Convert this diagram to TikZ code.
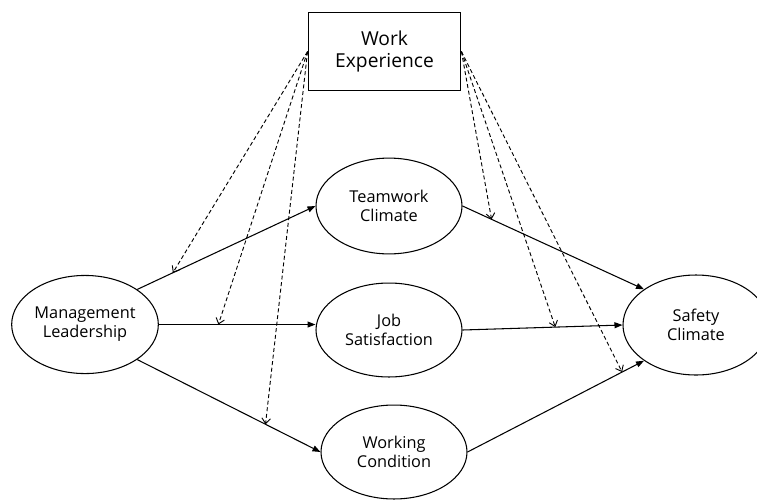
\documentclass[tikz,border=0pt]{standalone}
\usepackage{fontspec}
\setmainfont{Open Sans}
\usetikzlibrary{shapes.geometric, arrows.meta, positioning}

\begin{document}
\begin{tikzpicture}[
    x=0.0265cm, y=-0.0265cm,
    every node/.style={font=\fontsize{12.3}{14.5}\selectfont},
    construct/.style={ellipse, draw=black, line width=0.8pt, minimum width=3.87cm, minimum height=2.49cm, align=center, inner sep=1pt},
    moderator/.style={rectangle, draw=black, line width=0.8pt, minimum width=4.05cm, minimum height=2.09cm, align=center, font=\fontsize{14.5}{16}\selectfont},
    arrow/.style={-{Triangle[length=6pt, width=4.5pt]}, line width=0.8pt},
    darrow/.style={-{Straight Barb[length=4pt, width=6.5pt]}, line width=0.7pt, dash pattern=on 3pt off 2pt}
]
\clip (0,0) rectangle (757,503);

% Constructs
\node[construct, minimum width=3.82cm, minimum height=2.6cm] (mgmt) at (85, 324.5) {Management\\Leadership};
\node[construct, minimum height=2.54cm] (team) at (389, 206) {Teamwork\\Climate};
\node[construct] (job) at (389, 330) {Job\\Satisfaction};
\node[construct] (cond) at (394, 452) {Working\\Condition};
\node[construct, minimum height=2.65cm] (safety) at (696, 325) {Safety\\Climate};

% Moderator
\node[moderator] (work) at (384.5, 51.5) {Work\\Experience};

% Direct paths
\draw[arrow] (mgmt.north east) -- coordinate[pos=0.20] (m1) (team.west);
\draw[arrow] (mgmt.east) -- coordinate[pos=0.38] (m2) (job.west |- mgmt.east);
\draw[arrow] (mgmt.south east) -- coordinate[pos=0.70] (m3) (cond.west);

\draw[arrow] (team.east) -- coordinate[pos=0.16] (s1) (safety.north west);
\draw[arrow] (job.east) -- coordinate[pos=0.58] (s2) (safety.west);
\draw[arrow] (cond.east) -- coordinate[pos=0.876] (s3) (safety.south west);

% Moderating effects
\foreach \target in {m1,m2,m3}
    \draw[darrow] (work.west) -- (\target);
\foreach \target in {s1,s2,s3}
    \draw[darrow] (work.east) -- (\target);

\end{tikzpicture}
\end{document}
